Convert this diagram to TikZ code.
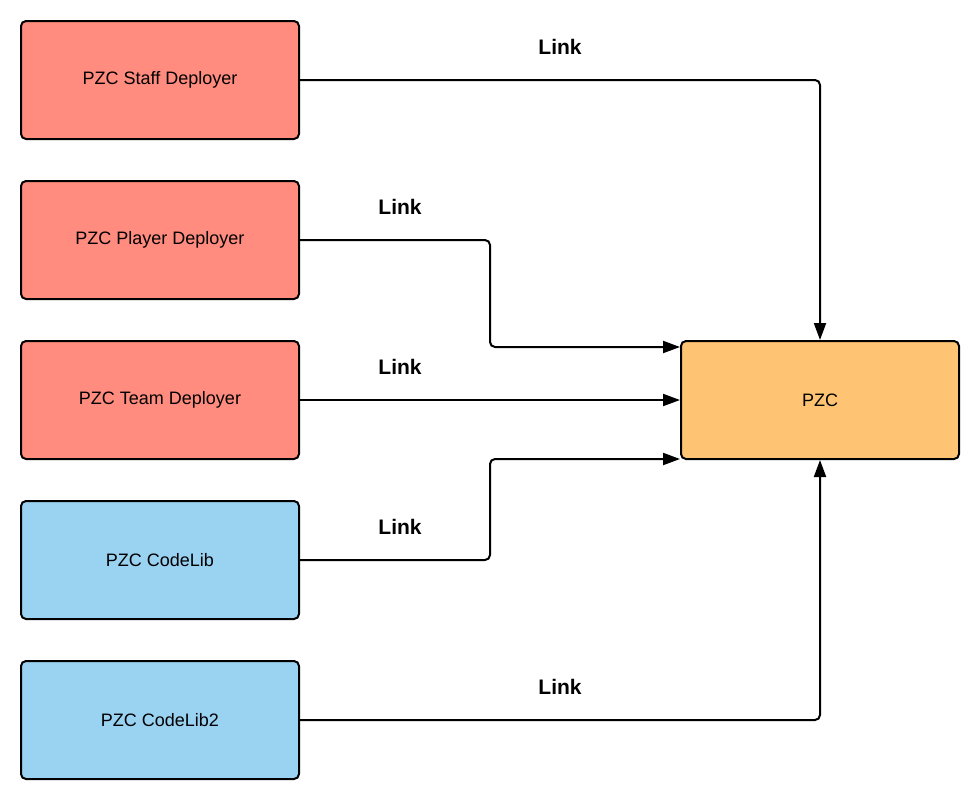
\documentclass[tikz,border=0pt]{standalone}
\usepackage{fontspec}
\setmainfont{Liberation Sans}
\usetikzlibrary{arrows.meta}
\definecolor{deployred}{HTML}{FF8C7E}
\definecolor{libblue}{HTML}{9AD2F2}
\definecolor{pzcorange}{HTML}{FFC473}

\begin{document}
\begin{tikzpicture}[x=1pt,y=-1pt,
  box/.style={draw=black,line width=2pt,rounded corners=5pt,minimum width=278pt,minimum height=118pt,font=\fontsize{18}{21}\selectfont},
  link/.style={line width=2pt,rounded corners=5pt,-{Triangle[length=17pt,width=12pt]}},
  linklabel/.style={font=\fontsize{21}{25}\selectfont\bfseries}]
\useasboundingbox (0,0) rectangle (979,796);

% deployers and libs
\node[box,fill=deployred] (staff) at (160,80) {PZC Staff Deployer};
\node[box,fill=deployred] (player) at (160,240) {PZC Player Deployer};
\node[box,fill=deployred] (team) at (160,400) {PZC Team Deployer};
\node[box,fill=libblue] (codelib) at (160,560) {PZC CodeLib};
\node[box,fill=libblue] (codelibtwo) at (160,720) {PZC CodeLib2};

% target
\node[box,fill=pzcorange] (pzc) at (820,400) {PZC};

% links
\draw[link] (staff.east) -| (pzc.north);
\draw[link] (player.east) -- (490,240) |- ([yshift=-7pt]pzc.north west);
\draw[link] (team.east) -- (pzc.west);
\draw[link] (codelib.east) -- (490,560) |- ([yshift=1pt]pzc.south west);
\draw[link] (codelibtwo.east) -| (pzc.south);

\node[linklabel] (lstaff) at (560,47) {Link};
\node[linklabel] (lplayer) at (400,207) {Link};
\node[linklabel] (lteam) at (400,367) {Link};
\node[linklabel] (lcodelib) at (400,527) {Link};
\node[linklabel] (lcodelibtwo) at (560,687) {Link};

\end{tikzpicture}
\end{document}
